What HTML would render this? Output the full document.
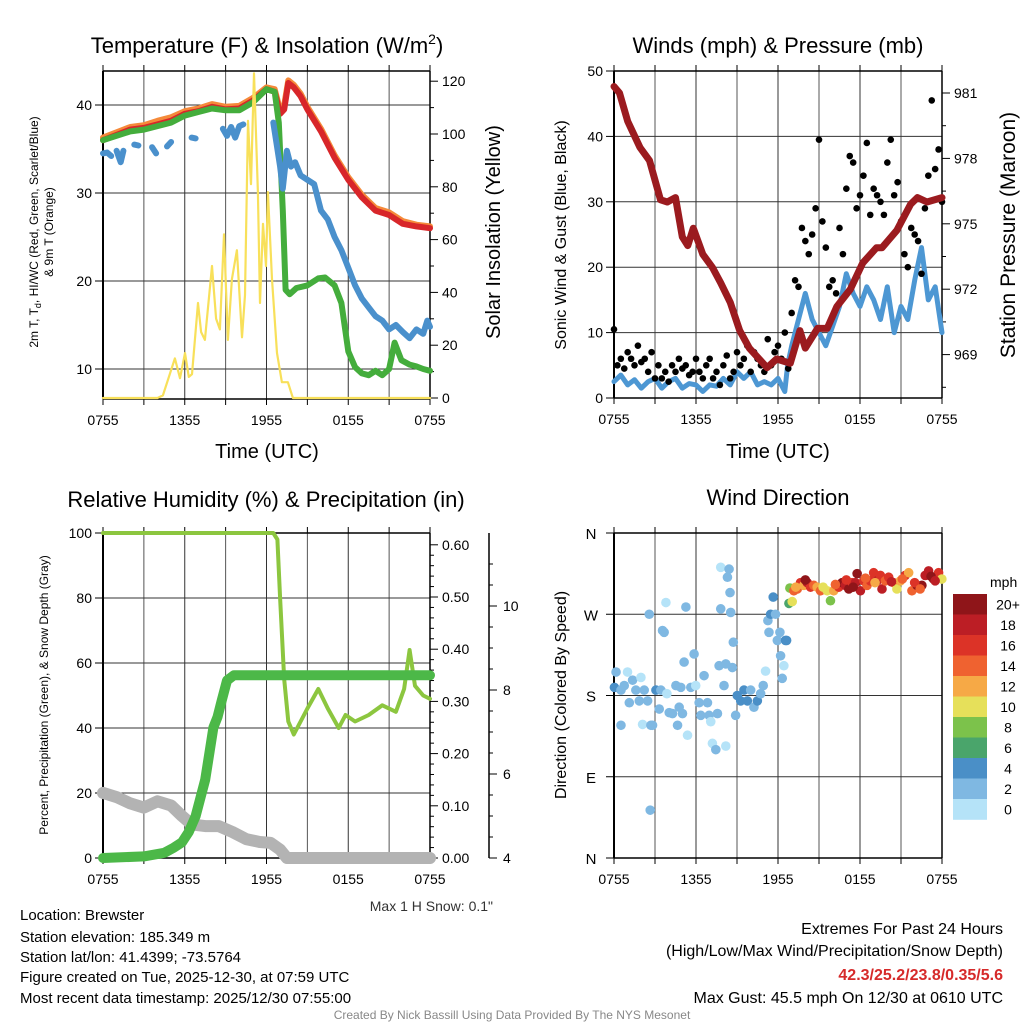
<!DOCTYPE html>
<html><head><meta charset="utf-8"><style>
body{margin:0;background:#fff;}
svg{display:block;font-family:"Liberation Sans",sans-serif;}
</style></head><body>
<svg id="s" width="1024" height="1024" viewBox="0 0 1024 1024" xmlns="http://www.w3.org/2000/svg">
<rect width="1024" height="1024" fill="#fff"/>
<text x="267" y="53" font-size="22" text-anchor="middle">Temperature (F) &amp; Insolation (W/m<tspan font-size="14" dy="-9">2</tspan><tspan dy="9">)</tspan></text>
<text x="778" y="53" font-size="22" text-anchor="middle">Winds (mph) &amp; Pressure (mb)</text>
<text x="266" y="507" font-size="22" text-anchor="middle">Relative Humidity (%) &amp; Precipitation (in)</text>
<text x="778" y="505" font-size="22" text-anchor="middle">Wind Direction</text>

<text transform="translate(38,232) rotate(-90)" font-size="12" text-anchor="middle">2m T, T<tspan font-size="9" dy="3">d</tspan><tspan dy="-3">, HI/WC (Red, Green, Scarlet/Blue)</tspan></text>
<text transform="translate(53,232) rotate(-90)" font-size="12" text-anchor="middle">&amp; 9m T (Orange)</text>
<text transform="translate(500,232) rotate(-90)" font-size="20" text-anchor="middle">Solar Insolation (Yellow)</text>
<text x="267" y="458" font-size="20" text-anchor="middle">Time (UTC)</text>
<text transform="translate(566,235) rotate(-90)" font-size="16" text-anchor="middle">Sonic Wind &amp; Gust (Blue, Black)</text>
<text transform="translate(1015,235) rotate(-90)" font-size="21" text-anchor="middle">Station Pressure (Maroon)</text>
<text x="778" y="458" font-size="20" text-anchor="middle">Time (UTC)</text>
<text transform="translate(48,695) rotate(-90)" font-size="12" text-anchor="middle">Percent, Precipitation (Green), &amp; Snow Depth (Gray)</text>
<text transform="translate(566,695) rotate(-90)" font-size="16" text-anchor="middle">Direction (Colored By Speed)</text>
<text x="493" y="911" font-size="14" fill="#333" text-anchor="end">Max 1 H Snow: 0.1"</text>

<g font-size="15">
<text x="20" y="920">Location: Brewster</text>
<text x="20" y="942">Station elevation: 185.349 m</text>
<text x="20" y="962">Station lat/lon: 41.4399; -73.5764</text>
<text x="20" y="982">Figure created on Tue, 2025-12-30, at 07:59 UTC</text>
<text x="20" y="1003">Most recent data timestamp: 2025/12/30 07:55:00</text>
</g>
<g font-size="16" text-anchor="end">
<text x="1003" y="934">Extremes For Past 24 Hours</text>
<text x="1003" y="956">(High/Low/Max Wind/Precipitation/Snow Depth)</text>
<text x="1003" y="980" fill="#d62a2a" font-weight="bold">42.3/25.2/23.8/0.35/5.6</text>
<text x="1003" y="1003">Max Gust: 45.5 mph On 12/30 at 0610 UTC</text>
</g>
<text x="512" y="1019" font-size="12" fill="#888" text-anchor="middle">Created By Nick Bassill Using Data Provided By The NYS Mesonet</text>
</svg>
<script>
// ---------- DATA ----------
const xTickLabels = ["0755","1355","1955","0155","0755"];
// Panel 1 temperatures (hours since 0755)
const tempTimes = [0,1,2,3,4,5,6,7,8,9,10,11,12,12.6,13.0,13.3,13.6,14,14.5,15,16,17,18,19,20,21,22,23,24];
const redTemp   = [36,36.6,37.2,37.4,37.8,38.2,39,39.3,39.8,39.5,39.6,40.5,41.8,41.5,39,39.5,42.5,42,41,39.5,37,34,31.5,29.5,28,27.5,26.5,26.2,26];
const orangeTemp= [36.3,36.9,37.5,37.7,38.2,38.6,39.3,39.6,40.1,39.8,39.9,40.8,42,41.8,39.4,40,42.8,42.3,41.3,39.8,37.3,34.3,31.8,29.8,28.3,27.8,26.8,26.4,26.2];
const greenTimes = [0,1,2,3,4,5,6,7,8,9,10,11,12,12.6,12.9,13.2,13.4,13.7,14.2,15,15.8,16.3,17,17.5,18,18.5,19,19.5,20,20.5,21,21.4,21.9,22.5,23,23.5,24];
const greenTemp  = [36,36.5,37,37.2,37.6,38,38.8,39.2,39.6,39.4,39.4,40.3,41.8,41.5,38,28,19,18.5,19.2,19.5,20.3,20.4,19.5,17.5,12,10.2,9.5,9.3,9.8,9.3,10,13,11,10.5,10.3,10,9.8];
const blueTimes = [0,0.3,0.6,null,1.0,1.3,1.5,null,2.3,2.6,null,3.6,3.9,null,4.7,5.0,null,6.5,6.8,null,8.8,9.1,9.4,9.7,10.0,10.3,null,12.5,12.8,13.0,13.2,13.5,13.8,14.1,14.5,15,15.5,16,16.5,17,17.5,18,18.5,19,19.5,20,20.5,21,21.5,22,22.5,23,23.5,23.8,24];
const blueTemp  = [34.5,34.6,34.2,null,34.8,33.5,34.8,null,35.5,35.4,null,35.2,34.5,null,35.3,35.8,null,36.3,36.2,null,37.3,36.5,37.5,36.3,37.6,37.8,null,38,35,33,30.5,34.8,33,33.5,32,31.5,31,28,27,25,23.5,21.5,19.5,18,17,16,15.5,14.5,15,14.2,13.5,14.5,14,15.5,14.8];
const solarTimes = [0,4.0,4.4,5.28,5.65,6.02,6.3,6.53,6.97,7.2,7.48,8.0,8.3,8.58,8.88,9.17,9.46,9.83,10.2,10.42,10.64,10.86,11.08,11.37,11.52,11.74,11.96,12.1,12.4,12.77,13.13,13.57,13.94,24];
const solarVals  = [0,0,1,15,7.5,17,8,9,36,25,22,50,30,26,62,22,45,56,23,39,105,81,123,78,36,66,50,78,45,17,6,6,0,0];
// Panel 2
const windTimes = [0,0.5,1,1.5,2,2.5,3,3.5,4,4.5,5,5.5,6,6.5,7,7.5,8,8.5,9,9.5,10,10.5,11,11.5,12,12.5,12.7,13,13.5,14,14.5,15,15.5,16,16.5,17,17.5,18,18.5,19,19.5,20,20.5,21,21.5,22,22.5,23,23.5,24];
const windVals  = [2.5,3.5,2,2.8,1.5,2.5,3,1.5,2.5,3,1.5,2.2,2,1,2,1.8,3,2,4,3,4,2,2.5,2,3,1,5,8,12,16,12,10,8,11,14,19,16,14,17,15,12,17,10,14,12,18,23,15,17,10];
const gustVals  = [10.5,5,6,4.5,7,6,5,8,5.5,6,4,7,3,
  5,3,4,2.5,5,4,6,4.5,5,3.5,4,6,
  4,3,5,6,3,4,2,5,6.5,3,4,7,
  5,6,8,4,7,6,5,4,9,5,7,8,
  6,10,4.5,13,18,17,26,24,22,25,29,39.5,
  27,23,17,18,16,26,22,32,37,36,29,31,
  34,39,28,32,31,30,28,36,39.5,31,33,27,
  22,20,26,25,24,19,29,34,45.5,35,38,30];
const gustStep = 0.25;
const presTimes = [0,0.4,1,1.9,2.6,3.4,3.9,4.5,5.0,5.4,5.8,6.5,7.2,7.8,8.5,9.2,9.9,11.2,11.9,12.9,13.6,14,14.9,15.6,16.3,17.3,18.2,19.2,19.6,20.7,21.7,22.2,22.9,24];
const presVals  = [981.3,981,979.7,978.5,977.9,976.1,976,976.2,974.4,974,974.8,973.6,973,972.3,971.4,970.1,969.3,968.4,968.8,968.6,970.1,969.3,970.2,970.2,971.2,972,973.2,973.9,973.9,974.7,975.9,976.2,976,976.2];
// Panel 3
const rhTimes = [0,12.5,12.8,13.0,13.3,13.6,14.0,14.5,15,15.8,16.5,17.3,17.8,18.5,19.5,20.5,21.5,22.1,22.5,22.9,23.5,24];
const rhVals  = [100,100,98,80,55,42,38,42,46,52,46,40,44,42,44,47,45,52,64,53,50,49];
const precipTimes = [0,3,4.5,5.2,5.8,6.3,6.8,7.1,7.5,7.8,8.1,8.4,8.7,9.1,9.6,24];
const precipVals  = [0,0.003,0.01,0.02,0.03,0.05,0.08,0.11,0.15,0.2,0.25,0.27,0.30,0.34,0.35,0.35];
const snowTimes = [0,1,2,3,4,5,5.8,6.5,7.5,8.5,9.5,10.5,11.5,12.3,13.0,13.5,24];
const snowVals  = [5.55,5.45,5.3,5.2,5.35,5.25,5.0,4.8,4.76,4.76,4.62,4.45,4.38,4.36,4.2,4.0,4.0];
// Panel 4
const dirTimes = [0.03,0.15,0.51,0.51,0.75,0.99,1.12,1.36,1.6,1.85,1.97,2.09,2.21,2.46,2.58,2.7,2.65,2.82,3.07,3.31,3.43,3.55,3.67,3.8,3.87,4.04,4.28,4.53,4.65,4.77,4.89,5.01,5.13,5.26,5.38,5.62,5.86,5.98,6.23,6.35,6.59,6.84,6.96,7.08,7.2,7.45,7.57,7.69,7.81,7.81,8.05,8.18,8.18,8.3,8.42,8.49,8.54,8.66,8.73,8.9,9.02,9.27,9.51,9.76,10.0,10.24,10.49,10.73,10.92,11.09,11.26,11.34,11.46,11.65,11.82,11.95,12.14,12.19,12.31,12.43,12.55,12.63,
 12.8,12.87,13.04,13.16,13.41,13.65,13.89,14.14,14.38,14.62,14.87,15.11,15.6,15.84,16.08,16.45,16.69,16.93,17.18,17.42,17.66,17.79,18.03,18.27,18.52,18.76,19.0,19.25,19.49,19.61,19.85,20.1,20.46,20.7,20.95,21.31,21.56,21.8,22.17,22.53,22.77,23.02,23.38,23.75,23.99,
 13.3,14.0,15.3,16.2,17.0,17.5,18.4,19.1,20.3,21.1,22.0,22.4,23.2,23.5];
const dirDegs = [189,206,186,147,191,206,172,197,186,174,200,148,186,174,270,147,53,147,186,165,186,252,250,283,182,161,160,191,147,167,189,160,217,278,136,189,226,191,172,158,202,172,158,151,127,120,160,213,276,322,191,124,215,311,320,294,272,211,239,158,180,174,186,174,186,167,174,182,191,207,263,250,270,289,270,241,250,224,199,213,241,241,
 282,299,284,296,298,305,302,305,300,302,300,296,296,285,296,300,305,302,298,305,305,315,296,307,302,307,316,307,313,298,307,311,305,298,307,313,316,296,302,302,313,318,309,316,309,
 300,308,300,303,308,300,310,305,306,309,305,298,312,307];
const dirSpeeds = [5,3,3,3,3,1,3,3,3,3,1,1,3,3,3,3,3,3,5,3,3,3,3,1,1,3,3,3,3,3,3,3,3,3,1,3,3,1,3,3,3,3,3,1,1,3,3,3,3,1,3,1,3,3,3,3,3,3,3,3,5,5,5,5,3,3,5,3,3,1,3,3,5,5,3,3,3,3,3,1,5,5,
 7,9,11,15,15,17,13,19,17,15,13,15,11,9,13,17,21,19,21,17,19,21,19,17,15,17,17,19,17,19,15,17,15,11,13,17,13,15,21,21,19,19,21,17,11,
 13,21,11,15,17,21,15,13,19,15,17,15,21,19];
const speedBinLabels = ["0","2","4","6","8","10","12","14","16","18","20+"];
const speedColors = ["#b5e3f8","#7fb8e2","#4a8fc7","#4aa56b","#7cc24b","#e6e05a","#f6a946","#ef6230","#dc3327","#bc1e25","#8f1519"];

// ---------- HELPERS ----------
const NS="http://www.w3.org/2000/svg";
const svg=document.getElementById('s');
function mk(tag,parent){const e=document.createElementNS(NS,tag);(parent||svg).appendChild(e);return e;}
function lineE(p,x1,y1,x2,y2,stroke,w){const l=mk('line',p);l.setAttribute('x1',x1);l.setAttribute('y1',y1);l.setAttribute('x2',x2);l.setAttribute('y2',y2);l.setAttribute('stroke',stroke);l.setAttribute('stroke-width',w);return l;}
function textE(p,x,y,s,size,anchor){const t=mk('text',p);t.setAttribute('x',x);t.setAttribute('y',y);t.setAttribute('font-size',size);t.setAttribute('text-anchor',anchor);t.textContent=s;return t;}
function pathD(times,vals,xf,yf){let d='',pen=false;for(let i=0;i<times.length;i++){if(times[i]===null||vals[i]===null){pen=false;continue;}d+=(pen?'L':'M')+xf(times[i]).toFixed(1)+','+yf(vals[i]).toFixed(1);pen=true;}return d;}
function series(p,times,vals,xf,yf,color,w,name){const e=mk('path',p);e.setAttribute('d',pathD(times,vals,xf,yf));e.setAttribute('fill','none');e.setAttribute('stroke',color);e.setAttribute('stroke-width',w);e.setAttribute('stroke-linecap','round');e.setAttribute('stroke-linejoin','round');


return e;}
function frame(x0,x1,y0,y1,hGrid,name){
  const g=mk('g');
  
  
  for(let k=1;k<8;k++){const x=x0+(x1-x0)*k/8;lineE(g,x,y0,x,y1,k%2?'#555':'#333',1);}
  hGrid.forEach(y=>lineE(g,x0,y,x1,y,'#333',1));
  lineE(g,x0,y0,x1,y0,'#000',1.5);lineE(g,x0,y1,x1,y1,'#000',1.5);
  lineE(g,x0,y0,x0,y1,'#000',2);lineE(g,x1,y0,x1,y1,'#000',1.5);
  for(let k=0;k<=8;k++){const x=x0+(x1-x0)*k/8;lineE(g,x,y1,x,y1+6,'#000',1);lineE(g,x,y0-6,x,y0,'#000',1);}
  const lg=mk('g');
  
  
  xTickLabels.forEach((s,i)=>textE(lg,x0+(x1-x0)*i/4,y1+26,s,14,'middle'));
  return g;
}
function leftTicks(x0,vals,yf,labs,name){const g=mk('g');
  
  
  vals.forEach((v,i)=>{const y=yf(v);lineE(g,x0-8,y,x0,y,'#000',1);textE(g,x0-11,y+5,labs[i],14,'end');});}
function rightTicks(x1,vals,yf,labs,minor,name,off){const g=mk('g');
  
  
  minor.forEach(v=>lineE(g,x1,yf(v),x1+4,yf(v),'#000',1));
  vals.forEach((v,i)=>{const y=yf(v);lineE(g,x1,y,x1+8,y,'#000',1);textE(g,x1+(off||12),y+5,labs[i],14,'start');});}

// ---------- PANEL 1 ----------
{const x0=103,x1=430,y0=71,y1=399;
 const xf=t=>x0+t/24*(x1-x0), yT=v=>105+(40-v)*8.8, yS=v=>398-v*2.64;
 frame(x0,x1,y0,y1,[10,20,30,40].map(yT),'temp-plot-frame');
 leftTicks(x0,[10,20,30,40],yT,["10","20","30","40"],'temp-y-axis');
 const mn=[];for(let v=10;v<=120;v+=10)if(v%20)mn.push(v);
 rightTicks(x1,[0,20,40,60,80,100,120],yS,["0","20","40","60","80","100","120"],mn,'solar-y-axis');
 const g=mk('g');
 
 
 series(g,tempTimes,orangeTemp,xf,yT,'#f58a3a',6,'9m-temp-line');
 series(g,tempTimes,redTemp,xf,yT,'#d8262a',6,'2m-temp-line');
 series(g,greenTimes,greenTemp,xf,yT,'#44ad3c',6,'dewpoint-green-line');
 series(g,blueTimes,blueTemp,xf,yT,'#4a90cc',6,'windchill-blue-line');
 series(g,solarTimes,solarVals,xf,yS,'#f8e05a',2.2,'solar-line');
}
// ---------- PANEL 2 ----------
{const x0=614,x1=942,y0=71,y1=398;
 const xf=t=>x0+t/24*(x1-x0), yW=v=>398-v*6.54, yP=v=>93+(981-v)*21.8;
 frame(x0,x1,y0,y1,[10,20,30,40].map(yW),'wind-plot-frame');
 leftTicks(x0,[0,10,20,30,40,50],yW,["0","10","20","30","40","50"],'wind-y-axis');
 rightTicks(x1,[969,972,975,978,981],yP,["969","972","975","978","981"],[967.5,970.5,973.5,976.5,979.5],'pressure-y-axis');
 const g=mk('g');
 
 
 series(g,windTimes,windVals,xf,yW,'#4d97d3',5,'sonic-wind-line');
 const dg=mk('g',g);
 
 
 gustVals.forEach((v,i)=>{const c=mk('circle',dg);c.setAttribute('cx',xf(i*gustStep));c.setAttribute('cy',yW(v));c.setAttribute('r',3.3);c.setAttribute('fill','#000');
  
  });
 series(g,presTimes,presVals,xf,yP,'#9b1b1f',7,'pressure-line');
}
// ---------- PANEL 3 ----------
{const x0=103,x1=430,y0=533,y1=858;
 const xf=t=>x0+t/24*(x1-x0), yR=v=>858-v*3.25, yPr=v=>858-v*522, ySn=v=>858-(v-4)*42;
 frame(x0,x1,y0,y1,[20,40,60,80].map(yR),'rh-plot-frame');
 leftTicks(x0,[0,20,40,60,80,100],yR,["0","20","40","60","80","100"],'rh-y-axis');
 const mn=[];for(let v=0.02;v<0.61;v+=0.02){if(Math.abs(v*10-Math.round(v*10))>0.01)mn.push(v);}
 rightTicks(x1,[0,0.1,0.2,0.3,0.4,0.5,0.6],yPr,["0.00","0.10","0.20","0.30","0.40","0.50","0.60"],mn,'precip-y-axis');
 const sx=489;lineE(svg,sx,533,sx,858,'#000',1.5);
 rightTicks(sx,[4,6,8,10],ySn,["4","6","8","10"],[4.5,5,5.5,6.5,7,7.5,8.5,9,9.5,10.5,11],'snow-y-axis',14);
 const g=mk('g');
 
 
 series(g,snowTimes,snowVals,xf,ySn,'#b3b3b3',12,'snow-depth-line');
 series(g,rhTimes,rhVals,xf,yR,'#8cc63f',4,'rh-line');
 series(g,precipTimes,precipVals,xf,yPr,'#4cb848',10,'precip-line');
}
// ---------- PANEL 4 ----------
{const x0=614,x1=942,y0=533,y1=858;
 const xf=t=>x0+t/24*(x1-x0), yD=d=>858-d/360*325;
 frame(x0,x1,y0,y1,[90,180,270].map(yD),'dir-plot-frame');
 const lg=mk('g');
 
 
 [[360,'N'],[270,'W'],[180,'S'],[90,'E'],[0,'N']].forEach(([d,s])=>{lineE(lg,x0-8,yD(d),x0,yD(d),'#000',1);textE(lg,591,yD(d)+6,s,15,'middle');});
 const g=mk('g');
 
 
 dirTimes.forEach((t,i)=>{const c=mk('circle',g);const b=Math.min(10,Math.floor(dirSpeeds[i]/2));
  c.setAttribute('cx',xf(t));c.setAttribute('cy',yD(dirDegs[i]));c.setAttribute('r',4.8);c.setAttribute('fill',speedColors[b]);
  
  });
 const cb=mk('g');
 
 
 textE(cb,990,587,'mph',14,'start');
 const top=594,h=20.5;
 for(let k=0;k<11;k++){const idx=10-k;const r=mk('rect',cb);r.setAttribute('x',953);r.setAttribute('y',top+k*h);r.setAttribute('width',34);r.setAttribute('height',h+0.3);r.setAttribute('fill',speedColors[idx]);
  
  
  textE(cb,1008,top+k*h+h/2+5,speedBinLabels[idx],14,'middle');}
}
</script>
</body></html>
